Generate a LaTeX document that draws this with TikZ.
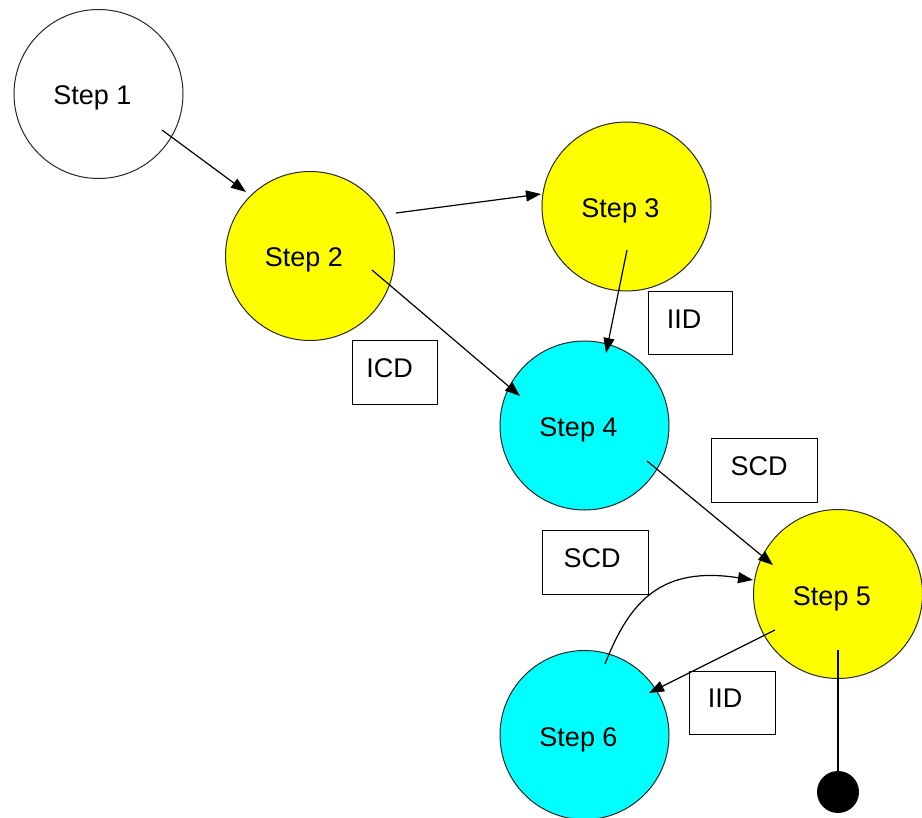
\documentclass[tikz,border=0pt]{standalone}
\usepackage{fontspec}
\setmainfont{Liberation Sans}
\usetikzlibrary{arrows.meta}
\definecolor{stepyellow}{RGB}{255,255,0}
\definecolor{stepcyan}{RGB}{0,255,255}
\tikzset{
  stepnode/.style={circle, draw=black!85, line width=1pt, minimum size=169pt, inner sep=0pt,
    text height=28pt, text depth=6pt, font=\fontsize{27}{32}\selectfont},
  tagbox/.style={rectangle, draw=black, line width=1pt, inner sep=0pt,
    text height=20pt, text depth=10pt, font=\fontsize{27}{32}\selectfont},
  arr/.style={line width=1.2pt, -{Triangle[length=15pt,width=11pt]}},
}
\newcommand{\lbl}[1]{#1\hspace*{12pt}}
\begin{document}
\begin{tikzpicture}[x=1pt,y=-1pt]
\useasboundingbox (0,0) rectangle (922,818);
% steps
\node[stepnode, fill=white] (s1) at (98.5,94) {\lbl{Step 1}};
\node[stepnode, fill=stepyellow] (s2) at (310,256) {\lbl{Step 2}};
\node[stepnode, fill=stepyellow] (s3) at (626.5,206.5) {\lbl{Step 3}};
\node[stepnode, fill=stepcyan] (s4) at (584.5,425.5) {\lbl{Step 4}};
\node[stepnode, fill=stepyellow] (s5) at (838,594) {\lbl{Step 5}};
\node[stepnode, fill=stepcyan] (s6) at (584.5,735) {\lbl{Step 6}};
% end dot
\node[circle, fill=black, minimum size=42pt, inner sep=0pt] (dot) at (838,792) {};
% labels
\node[tagbox, minimum width=85pt, minimum height=64pt] (icd) at (394.5,373) {\hspace*{0pt}ICD\hspace*{10pt}};
\node[tagbox, minimum width=84pt, minimum height=63pt] (iid1) at (690,323.5) {\hspace*{0pt}IID\hspace*{12pt}};
\node[tagbox, minimum width=106pt, minimum height=64pt] (scd1) at (764,471) {\hspace*{0pt}SCD\hspace*{10pt}};
\node[tagbox, minimum width=106pt, minimum height=64pt] (scd2) at (595,562) {\hspace*{0pt}SCD\hspace*{6pt}};
\node[tagbox, minimum width=86pt, minimum height=63pt] (iid2) at (732,702.5) {\hspace*{0pt}IID\hspace*{14pt}};
% connectors
\draw[arr] ([shift={(63.5,36)}]s1.center) -- ([shift={(-64,-64)}]s2.center);
\draw[arr] ([shift={(86,-43)}]s2.center) -- ([shift={(-85.5,-12.5)}]s3.center);
\draw[arr] ([shift={(62,14)}]s2.center) -- ([shift={(-64.5,-29.5)}]s4.center);
\draw[arr] ([shift={(0.5,43.5)}]s3.center) -- ([shift={(21.5,-72.5)}]s4.center);
\draw[arr] ([shift={(62.5,35.5)}]s4.center) -- ([shift={(-65,-29)}]s5.center);
\draw[arr] ([shift={(20.5,-71)}]s6.center) .. controls (630,600) and (662,566) .. ([shift={(-85,-14)}]s5.center);
\draw[arr] ([shift={(-63,36)}]s5.center) -- ([shift={(64.5,-42)}]s6.center);
\draw[line width=1.2pt] ([shift={(0,56)}]s5.center) -- (dot.center);
\end{tikzpicture}
\end{document}
